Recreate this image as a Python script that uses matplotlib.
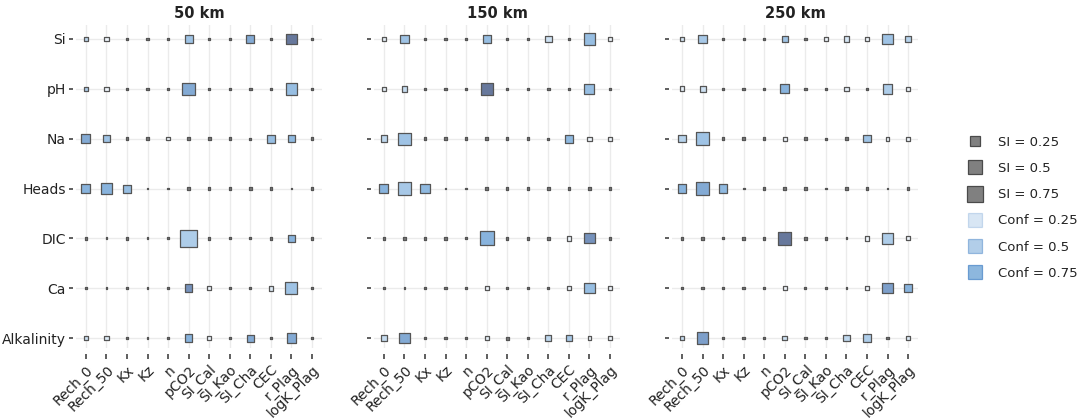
import matplotlib as mpl
mpl.use("Agg")
import matplotlib.pyplot as plt
import numpy as np
from matplotlib.colors import LinearSegmentedColormap
from matplotlib.lines import Line2D

mpl.rcParams.update({
    "font.family": "DejaVu Sans",
    "font.size": 9.5,
    "text.color": "#222222",
    "xtick.color": "#222222",
    "ytick.color": "#222222",
})

ROWS = ["Si", "pH", "Na", "Heads", "DIC", "Ca", "Alkalinity"]
COLS = ["Rech_0", "Rech_50", "Kx", "Kz", "n", "pCO2", "SI_Cal", "SI_Kao",
        "SI_Cha", "CEC", "r_Plag", "logK_Plag"]
DISTANCES = ["50 km", "150 km", "250 km"]

# sensitivity index (marker area) and confidence (fill)
d, t, b = 0.015, 0.008, 0.025   # near-zero dots

si_50 = [
    [0.06, 0.05, d, d, d, 0.17, d, t, 0.18, d, 0.30, d],
    [0.05, 0.05, d, d, d, 0.42, d, t, d, d, 0.36, d],
    [0.22, 0.12, d, d, 0.03, b, b, d, t, 0.17, 0.12, d],
    [0.22, 0.36, 0.17, t, t, b, d, d, d, d, t, d],
    [d, t, d, t, t, 0.75, d, t, t, d, 0.11, d],
    [d, t, d, t, t, 0.15, 0.04, t, t, 0.06, 0.38, d],
    [0.05, 0.05, d, t, t, 0.15, 0.04, t, 0.13, d, 0.25, d],
]
conf_50 = [
    [0.40, 0.10, 0, 0, 0, 0.60, 0, 0, 0.80, 0, 1.00, 0],
    [0.50, 0.10, 0, 0, 0, 0.80, 0, 0, 0, 0, 0.65, 0],
    [0.80, 0.60, 0, 0, 0.10, 0, 0, 0, 0, 0.65, 0.70, 0],
    [0.75, 0.75, 0.65, 0, 0, 0, 0, 0, 0, 0, 0, 0],
    [0, 0, 0, 0, 0, 0.50, 0, 0, 0, 0, 0.75, 0],
    [0, 0, 0, 0, 0, 0.90, 0.10, 0, 0, 0.20, 0.60, 0],
    [0.30, 0.20, 0, 0, 0, 0.75, 0.10, 0, 0.80, 0, 0.80, 0],
]

si_150 = [
    [0.05, 0.19, d, d, t, 0.16, d, d, 0.11, d, 0.34, 0.05],
    [0.05, 0.09, t, d, d, 0.40, d, d, d, d, 0.27, d],
    [0.11, 0.40, d, d, d, b, d, d, t, 0.17, 0.05, 0.04],
    [0.22, 0.49, 0.22, t, t, b, d, d, d, d, d, d],
    [d, b, d, d, t, 0.54, d, d, d, 0.05, 0.28, d],
    [t, t, d, d, t, 0.05, d, d, t, 0.04, 0.28, 0.05],
    [0.09, 0.28, d, d, d, 0.05, b, d, 0.09, 0.10, 0.03, 0.05],
]
conf_150 = [
    [0.15, 0.60, 0, 0, 0, 0.65, 0, 0, 0.30, 0, 0.65, 0.10],
    [0.15, 0.35, 0, 0, 0, 1.00, 0, 0, 0, 0, 0.65, 0],
    [0.40, 0.60, 0, 0, 0, 0, 0, 0, 0, 0.70, 0.10, 0.10],
    [0.75, 0.55, 0.70, 0, 0, 0, 0, 0, 0, 0, 0, 0],
    [0, 0, 0, 0, 0, 0.75, 0, 0, 0, 0.10, 0.90, 0],
    [0, 0, 0, 0, 0, 0.10, 0, 0, 0, 0.10, 0.65, 0.10],
    [0.35, 0.80, 0, 0, 0, 0.15, 0, 0, 0.40, 0.55, 0.10, 0.10],
]

si_250 = [
    [0.06, 0.20, d, t, t, 0.10, d, 0.04, 0.08, 0.04, 0.28, 0.11],
    [0.06, 0.10, t, d, d, 0.22, d, d, 0.05, d, 0.25, 0.04],
    [0.14, 0.47, d, d, d, 0.04, d, t, d, 0.15, 0.04, 0.04],
    [0.20, 0.40, 0.20, t, d, b, d, t, d, d, t, d],
    [d, d, t, d, d, 0.47, d, d, t, 0.05, 0.34, 0.04],
    [t, d, d, d, t, 0.05, t, d, t, 0.05, 0.27, 0.16],
    [0.06, 0.36, d, d, t, 0.06, d, t, 0.10, 0.14, d, 0.06],
]
conf_250 = [
    [0.25, 0.55, 0, 0, 0, 0.60, 0, 0.10, 0.25, 0.10, 0.60, 0.45],
    [0.15, 0.30, 0, 0, 0, 0.75, 0, 0, 0.15, 0, 0.50, 0.10],
    [0.45, 0.60, 0, 0, 0, 0.10, 0, 0, 0, 0.60, 0.10, 0.10],
    [0.75, 0.80, 0.70, 0, 0, 0, 0, 0, 0, 0, 0, 0],
    [0, 0, 0, 0, 0, 1.00, 0, 0, 0, 0.10, 0.50, 0.10],
    [0, 0, 0, 0, 0, 0.10, 0, 0, 0, 0.10, 0.85, 0.75],
    [0.35, 0.85, 0, 0, 0, 0.30, 0, 0, 0.40, 0.50, 0, 0.20],
]

SI_PANELS = [si_50, si_150, si_250]
CONF_PANELS = [conf_50, conf_150, conf_250]

LEG_SI = [0.25, 0.5, 0.75]
LEG_CONF = [0.25, 0.5, 0.75]

SIZE_SCALE = 195  # marker area (pt^2) per unit SI
BLUE = "#679fd4"
conf_cmap = LinearSegmentedColormap.from_list(
    "conf", [(0.0, "#ffffff"), (0.25, "#d6e6f4"), (0.5, "#aecde9"),
             (0.75, "#88b4de"), (0.87, "#7b9bc6"), (1.0, "#67789c")])

fig = plt.figure(figsize=(10.84, 4.2), dpi=100)
lefts = [0.0698, 0.3447, 0.6197]
xx, yy = np.meshgrid(np.arange(len(COLS)), np.arange(len(ROWS)))

for k, (dist, si, conf) in enumerate(zip(DISTANCES, SI_PANELS, CONF_PANELS)):
    ax = fig.add_axes([lefts[k], 0.1714, 0.2275, 0.769])
    # spine positions first: moving them resets the tick labels
    for side in ["top", "right"]:
        ax.spines[side].set_visible(False)
    ax.spines["bottom"].set_position(("outward", 4))
    ax.spines["left"].set_position(("outward", 2))
    ax.spines["bottom"].set_visible(False)
    ax.spines["left"].set_visible(False)

    si = np.array(si).ravel(); conf = np.array(conf).ravel()
    fc = conf_cmap(conf)
    fc[si < 0.03] = mpl.colors.to_rgba("#7a7a7a")   # near-zero -> grey dot
    ax.scatter(xx.ravel(), yy.ravel(), s=SIZE_SCALE * si, marker="s",
               facecolors=fc, edgecolors="#555555", linewidths=0.9, zorder=3)
    ax.set_xlim(-0.5, len(COLS) - 0.5)
    ax.set_ylim(len(ROWS) - 1 + 0.2, -0.28)
    ax.set_xticks(range(len(COLS)))
    ax.set_xticklabels(COLS, rotation=45, ha="right", rotation_mode="anchor",
                       fontsize=10)
    ax.set_yticks(range(len(ROWS)))
    ax.set_yticklabels(ROWS if k == 0 else [], fontsize=10)
    ax.grid(True, color="#ebebeb", linewidth=1.0, zorder=0)
    ax.set_axisbelow(True)
    ax.tick_params(axis="x", length=3.5, width=1.1, pad=3, color="#333333")
    ax.tick_params(axis="y", length=3, width=1.1, pad=2, color="#333333")
    ax.set_title(dist, fontsize=10.5, fontweight="bold", pad=5)

handles, labels = [], []
for v in LEG_SI:
    handles.append(Line2D([], [], marker="s", linestyle="none",
                          markersize=np.sqrt(SIZE_SCALE * v),
                          markerfacecolor="#808080", markeredgecolor="#4a4a4a",
                          markeredgewidth=0.9))
    labels.append(f"SI = {v:g}")
for v in LEG_CONF:
    handles.append(Line2D([], [], marker="s", linestyle="none",
                          markersize=np.sqrt(SIZE_SCALE * 0.5),
                          markerfacecolor=mpl.colors.to_rgba(BLUE, v),
                          markeredgecolor=mpl.colors.to_rgba("#4a86c8", v),
                          markeredgewidth=0.9))
    labels.append(f"Conf = {v:g}")
fig.legend(handles, labels, loc="center left", bbox_to_anchor=(0.876, 0.505),
           frameon=False, fontsize=9.5, labelspacing=1.0, handletextpad=0.8)

fig.savefig("out.png", dpi=100, facecolor="white")
